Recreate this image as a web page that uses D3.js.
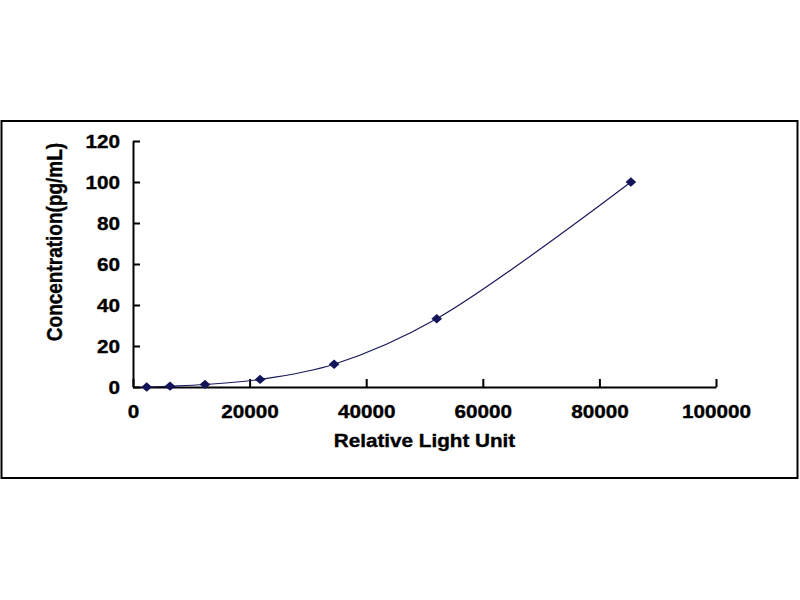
<!DOCTYPE html>
<html>
<head>
<meta charset="utf-8">
<script src="https://cdn.jsdelivr.net/npm/d3@7"></script>
<style>
  body { margin: 0; background: #fff; }
  svg { display: block; }
  text { font-family: "Liberation Sans", Arial, sans-serif; font-weight: bold; fill: #000; stroke: #000; stroke-width: 0.35px; }
</style>
</head>
<body>
<svg width="800" height="600"></svg>
<script>
// standard curve points
var rlu = [2350, 6350, 12350, 21800, 34500, 52100, 85400];
var conc = [0, 0.41, 1.23, 3.7, 11.1, 33.3, 100];
var xTicks = [0, 20000, 40000, 60000, 80000, 100000];
var yTicks = [0, 20, 40, 60, 80, 100, 120];

var svg = d3.select('svg');
var stretch = 'scale(1.15,1)';

// outer frame
svg.append('rect')
  .attr('x', 1.5).attr('y', 121)
  .attr('width', 796).attr('height', 357)
  .attr('fill', 'none')
  .attr('stroke', '#000')
  .attr('stroke-width', 2);

var xScale = d3.scaleLinear().domain([0, 100000]).range([133, 716]);
var yScale = d3.scaleLinear().domain([0, 120]).range([387, 141]);

var xAxis = d3.axisBottom(xScale)
  .tickValues(xTicks)
  .tickFormat(d3.format('d'))
  .tickSizeInner(-8)
  .tickSizeOuter(0)
  .tickPadding(18);

var yAxis = d3.axisLeft(yScale)
  .tickValues(yTicks)
  .tickSizeInner(-7)
  .tickSizeOuter(0)
  .tickPadding(13);

var gx = svg.append('g')
  .attr('transform', 'translate(0,' + yScale(0) + ')')
  .call(xAxis);

var gy = svg.append('g')
  .attr('transform', 'translate(' + xScale(0) + ',0)')
  .call(yAxis);

[gx, gy].forEach(function(g) {
  g.selectAll('path, line').attr('stroke', '#000').attr('stroke-width', 2);
  g.selectAll('text')
    .attr('font-size', 18)
    .attr('font-family', '"Liberation Sans", Arial, sans-serif')
    .attr('font-weight', 'bold')
    .attr('fill', '#000');
});

gx.selectAll('text')
  .attr('y', 0).attr('dy', 0)
  .attr('transform', 'translate(0,31) ' + stretch);

gy.selectAll('text')
  .attr('x', 0).attr('dy', 0)
  .attr('transform', 'translate(-13,6.5) ' + stretch);

// curve
var pts = rlu.map(function(d, i) { return [d, conc[i]]; });

var line = d3.line()
  .x(function(d) { return xScale(d[0]); })
  .y(function(d) { return yScale(d[1]); })
  .curve(d3.curveCatmullRom.alpha(0.5));

svg.append('path')
  .datum(pts)
  .attr('d', line)
  .attr('fill', 'none')
  .attr('stroke', '#1a1a5e')
  .attr('stroke-width', 1.2);

svg.selectAll('path.pt')
  .data(pts)
  .enter()
  .append('path')
  .attr('class', 'pt')
  .attr('d', d3.symbol().type(d3.symbolDiamond2).size(55))
  .attr('transform', function(d) {
    return 'translate(' + xScale(d[0]) + ',' + yScale(d[1]) + ') scale(1.15,1)';
  })
  .attr('fill', '#14145a');

// axis titles
svg.append('text')
  .attr('transform', 'translate(' + ((133 + 716) / 2) + ',447) ' + stretch)
  .attr('text-anchor', 'middle')
  .attr('font-size', 18)
  .text('Relative Light Unit');

svg.append('text')
  .attr('transform', 'translate(62,242) rotate(-90) scale(1,1.15)')
  .attr('text-anchor', 'middle')
  .attr('font-size', 19)
  .text('Concentration(pg/mL)');
</script>
</body>
</html>
